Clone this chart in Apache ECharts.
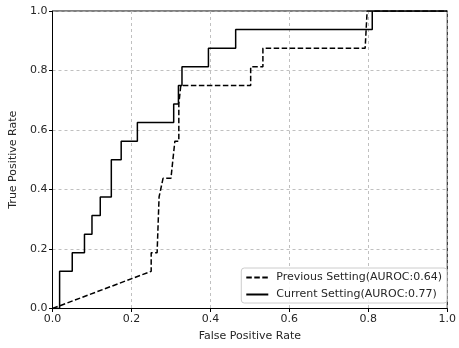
<!DOCTYPE html>
<html><head><meta charset="utf-8">
<script src="https://cdn.jsdelivr.net/npm/echarts@6/dist/echarts.min.js"></script>
<style>html,body{margin:0;padding:0;background:#fff}#c{width:459px;height:348px}</style>
</head><body><div id="c"></div>
<script>
const seriesNames = ['Previous Setting(AUROC:0.64)', 'Current Setting(AUROC:0.77)'];
const prevFpr = [0, 0.25, 0.25, 0.265, 0.27, 0.28, 0.30, 0.305, 0.31, 0.32, 0.32, 0.325, 0.325, 0.502, 0.502, 0.533, 0.533, 0.792, 0.797, 1.0];
const prevTpr = [0, 0.125, 0.1875, 0.1875, 0.375, 0.4375, 0.4375, 0.5, 0.5625, 0.5625, 0.6875, 0.6875, 0.75, 0.75, 0.8125, 0.8125, 0.875, 0.875, 1.0, 1.0];
const currFpr = [0, 0.018, 0.018, 0.05, 0.05, 0.081, 0.081, 0.1, 0.1, 0.121, 0.121, 0.149, 0.149, 0.174, 0.174, 0.215, 0.215, 0.307, 0.307, 0.319, 0.319, 0.328, 0.328, 0.395, 0.395, 0.464, 0.464, 0.81, 0.81, 1.0];
const currTpr = [0, 0, 0.125, 0.125, 0.1875, 0.1875, 0.25, 0.25, 0.3125, 0.3125, 0.375, 0.375, 0.5, 0.5, 0.5625, 0.5625, 0.625, 0.625, 0.6875, 0.6875, 0.75, 0.75, 0.8125, 0.8125, 0.875, 0.875, 0.9375, 0.9375, 1.0, 1.0];
const xTitle = 'False Positive Rate';
const yTitle = 'True Positive Rate';

const font = 'DejaVu Sans';
const zip = (a, b) => a.map((v, i) => [v, b[i]]);
const axisCommon = {
  type: 'value', min: 0, max: 1, interval: 0.2,
  nameLocation: 'middle',
  nameTextStyle: { fontFamily: font, fontSize: 11, color: '#262626' },
  axisLine: { show: true, lineStyle: { color: '#000', width: 1 } },
  axisTick: { show: true, length: 3.5, lineStyle: { color: '#000' } },
  axisLabel: { fontFamily: font, fontSize: 11, color: '#262626', margin: 5, formatter: v => v.toFixed(1) },
  splitLine: { show: true, lineStyle: { color: '#b0b0b0', type: [3, 3], width: 0.8 } }
};
const chart = echarts.init(document.getElementById('c'), null, { renderer: 'canvas' });
chart.setOption({
  animation: false,
  backgroundColor: '#fff',
  grid: { left: 52.5, right: 6.7, top: 11, bottom: 39.5, show: true, borderColor: '#000', borderWidth: 1, backgroundColor: 'transparent' },
  xAxis: Object.assign({}, axisCommon, { name: xTitle, nameGap: 22 }),
  yAxis: Object.assign({}, axisCommon, { name: yTitle, nameGap: 29 }),
  legend: {
    show: true,
    orient: 'vertical', right: 12, bottom: 45,
    backgroundColor: 'rgba(255,255,255,0.85)', borderColor: '#ccc', borderWidth: 1, borderRadius: 3,
    padding: [4, 5, 3, 4], itemGap: 6, itemWidth: 22, itemHeight: 12,
    itemStyle: { opacity: 0 },
    textStyle: { fontFamily: font, fontSize: 11, color: '#262626', padding: [0, 0, 0, 3] },
    data: seriesNames
  },
  series: [
    { name: seriesNames[0], type: 'line', data: zip(prevFpr, prevTpr), showSymbol: false, symbol: 'none',
      lineStyle: { color: '#000', width: 1.5, type: [5.5, 2.5] }, itemStyle: { color: '#000' } },
    { name: seriesNames[1], type: 'line', data: zip(currFpr, currTpr), showSymbol: false, symbol: 'none',
      lineStyle: { color: '#000', width: 1.5, type: 'solid' }, itemStyle: { color: '#000' } }
  ]
});
</script></body></html>
